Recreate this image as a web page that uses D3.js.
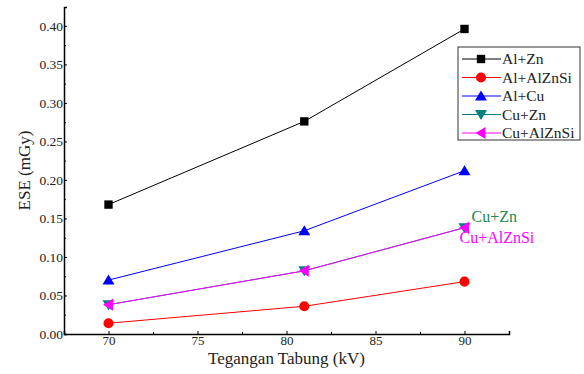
<!DOCTYPE html>
<html>
<head>
<meta charset="utf-8">
<script src="https://cdn.jsdelivr.net/npm/d3@7"></script>
<style>
  body { margin: 0; background: #fff; }
</style>
</head>
<body>
<div id="chart"></div>
<script>
// data
const voltages = [70, 81, 90];
const alZn = [0.168, 0.276, 0.396];
const alAlZnSi = [0.014, 0.036, 0.068];
const alCu = [0.070, 0.134, 0.212];
const cuZn = [0.038, 0.082, 0.138];
const cuAlZnSi = [0.038, 0.082, 0.138];
const xTicks = [70, 75, 80, 85, 90];
const yTicks = [0, 0.05, 0.1, 0.15, 0.2, 0.25, 0.3, 0.35, 0.4];

const series = [
  { name: 'Al+Zn', values: alZn, color: '#000000', symbol: 'square' },
  { name: 'Al+AlZnSi', values: alAlZnSi, color: '#ff0000', symbol: 'circle' },
  { name: 'Al+Cu', values: alCu, color: '#0000ff', symbol: 'up' },
  { name: 'Cu+Zn', values: cuZn, color: '#008080', symbol: 'down' },
  { name: 'Cu+AlZnSi', values: cuAlZnSi, color: '#ff00ff', symbol: 'left' }
];

const FONT = "'Liberation Serif'";
const width = 584, height = 374;
const margin = { top: 7, right: 75, bottom: 40, left: 64 };

const svg = d3.select('#chart').append('svg')
  .attr('width', width)
  .attr('height', height);

const x = d3.scaleLinear().domain([67.5, 92.5]).range([margin.left, width - margin.right]);
const y = d3.scaleLinear().domain([0, 0.4245]).range([height - margin.bottom, margin.top]);

// axes
const xAxis = svg.append('g')
  .attr('transform', 'translate(0,' + (height - margin.bottom) + ')')
  .call(d3.axisBottom(x).tickValues(xTicks).tickSize(-3).tickPadding(2).tickFormat(d3.format('d')));
xAxis.select('.domain').attr('stroke-width', 1.5);
xAxis.selectAll('text').attr('font-size', 13).attr('fill', '#222');

svg.append('g')
  .attr('transform', 'translate(0,' + (height - margin.bottom) + ')')
  .call(d3.axisBottom(x).tickValues([67.5, 72.5, 77.5, 82.5, 87.5, 92.5]).tickSize(-2).tickFormat(''))
  .select('.domain').remove();

const yAxis = svg.append('g')
  .attr('transform', 'translate(' + margin.left + ',0)')
  .call(d3.axisLeft(y).tickValues(yTicks).tickSize(-3).tickPadding(1).tickFormat(d3.format('.2f')));
yAxis.select('.domain').attr('stroke-width', 1.5);
yAxis.selectAll('text').attr('font-size', 13.5).attr('fill', '#222');

svg.append('g')
  .attr('transform', 'translate(' + margin.left + ',0)')
  .call(d3.axisLeft(y).tickValues(d3.range(0.025, 0.42, 0.05)).tickSize(-2).tickFormat(''))
  .select('.domain').remove();

// axis titles
svg.append('text')
  .attr('x', (margin.left + width - margin.right) / 2)
  .attr('y', height - 10)
  .attr('text-anchor', 'middle')
  .attr('font-size', 17)
  .attr('fill', '#222')
  .text('Tegangan Tabung (kV)');

svg.append('text')
  .attr('transform', 'translate(30,' + ((margin.top + height - margin.bottom) / 2) + ') rotate(-90)')
  .attr('text-anchor', 'middle')
  .attr('font-size', 17)
  .attr('fill', '#222')
  .text('ESE (mGy)');

function symbolPath(kind) {
  if (kind === 'square') return d3.symbol(d3.symbolSquare, 70)();
  if (kind === 'circle') return d3.symbol(d3.symbolCircle, 80)();
  if (kind === 'up') return 'M0,-5.5L6,4.5L-6,4.5Z';
  if (kind === 'down') return 'M0,5.5L6,-4.5L-6,-4.5Z';
  return 'M-5.5,0L4.5,-6L4.5,6Z';
}

const line = d3.line()
  .x((d, i) => x(voltages[i]))
  .y(d => y(d));

series.forEach(s => {
  svg.append('path')
    .datum(s.values)
    .attr('fill', 'none')
    .attr('stroke', s.color)
    .attr('stroke-width', 1)
    .attr('d', line);
  svg.selectAll(null)
    .data(s.values)
    .enter().append('path')
    .attr('d', symbolPath(s.symbol))
    .attr('fill', s.color)
    .attr('transform', (d, i) => 'translate(' + x(voltages[i]) + ',' + y(d) + ')');
});

// annotations at the end of overlapping lines
svg.append('text')
  .attr('x', x(90) + 7)
  .attr('y', y(cuZn[2]) - 6)
  .attr('font-size', 16)
  .attr('fill', '#1a8a50')
  .text('Cu+Zn');
svg.append('text')
  .attr('x', x(90) - 5)
  .attr('y', y(cuAlZnSi[2]) + 15)
  .attr('font-size', 16)
  .attr('fill', '#ff00ff')
  .text('Cu+AlZnSi');

// legend
const lg = svg.append('g').attr('transform', 'translate(458,47)');
lg.append('rect')
  .attr('width', 122)
  .attr('height', 93)
  .attr('fill', '#fff')
  .attr('stroke', '#333')
  .attr('stroke-width', 1);
series.forEach((s, i) => {
  const g = lg.append('g').attr('transform', 'translate(0,' + (12 + i * 18.5) + ')');
  g.append('line').attr('x1', 4).attr('x2', 43).attr('stroke', s.color).attr('stroke-width', 1);
  g.append('path').attr('d', symbolPath(s.symbol)).attr('fill', s.color).attr('transform', 'translate(23,0)');
  g.append('text')
    .attr('x', 44)
    .attr('dy', '0.35em')
    .attr('font-size', 15.5)
    .attr('fill', '#222')
    .text(s.name);
});

svg.selectAll('text').style('font-family', FONT);
</script>
</body>
</html>
